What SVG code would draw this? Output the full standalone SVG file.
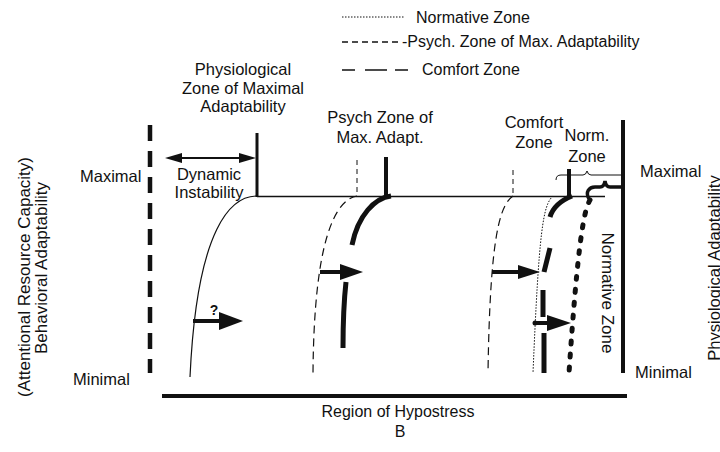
<svg xmlns="http://www.w3.org/2000/svg" width="720" height="452" viewBox="0 0 720 452">
<style>
text{font-family:"Liberation Sans",Arial,sans-serif;font-size:16.5px;fill:#111}
.c{text-anchor:middle}
.ln{fill:none;stroke:#111}
.thin{stroke-width:1.2}
.dsh{stroke-dasharray:8 5}
.tk{stroke-width:4}
.hd{fill:#111}
</style>
<rect width="720" height="452" fill="#fff"/>
<g id="legend">
<path class="ln" d="M342,17H405" stroke-width="1" stroke-dasharray="1.5 1.5"/>
<text x="416" y="23" style="font-size:16px">Normative Zone</text>
<path class="ln" d="M342,42H401" stroke-width="1.6" stroke-dasharray="6 4"/>
<text x="402" y="47" style="font-size:16px">-Psych. Zone of Max. Adaptability</text>
<path class="ln" d="M342,70H408" stroke-width="1.5" stroke-dasharray="13 10 22 8 13"/>
<text x="422" y="75" style="font-size:16px">Comfort Zone</text>
</g>
<g id="axes">
<text transform="translate(30,277) rotate(-90)" class="c" style="font-size:17px">(Attentional Resource Capacity)</text>
<text transform="translate(47,268) rotate(-90)" class="c" style="font-size:17px">Behavioral Adaptability</text>
<text x="80" y="182">Maximal</text>
<text x="73" y="385">Minimal</text>
<path class="ln" d="M150,125V373" stroke-width="4.5" stroke-dasharray="16 10"/>
<path class="ln" d="M162,396H627" stroke-width="4"/>
<text x="398" y="417" class="c" style="font-size:16px">Region of Hypostress</text>
<text x="400" y="437" class="c" style="font-size:16px">B</text>
<path class="ln" d="M623,120V373" stroke-width="4"/>
<text x="640" y="177">Maximal</text>
<text x="635" y="378">Minimal</text>
<text transform="translate(720,268) rotate(-90)" class="c">Physiological Adaptability</text>
<path class="ln" d="M257,196.5H605" stroke-width="1.3"/>
</g>
<g id="physiological-zone">
<text x="243" y="75" class="c">Physiological</text>
<text x="243" y="94" class="c">Zone of Maximal</text>
<text x="243" y="112" class="c">Adaptability</text>
<path class="ln" d="M257,133V197" stroke-width="3"/>
<text x="209" y="180" class="c">Dynamic</text>
<text x="209" y="198" class="c">Instability</text>
<path class="ln thin" d="M257,196C232,196 197,225 190,377"/>
</g>
<g id="psych-zone">
<text x="380" y="123" class="c">Psych Zone of</text>
<text x="380" y="143" class="c">Max. Adapt.</text>
<path class="ln" d="M357,160V196" stroke-width="1" stroke-dasharray="5 4"/>
<path class="ln tk" d="M386,157V197"/>
<path class="ln thin dsh" d="M357,196C335,200 314,240 313,373"/>
<path class="ln" stroke-width="5" d="M391,196C375,198 358,215 352,245"/>
<path class="ln" stroke-width="5" d="M346,282C344,300 343,325 343,348"/>
</g>
<g id="comfort-zone">
<text x="534" y="128" class="c">Comfort</text>
<text x="534" y="148" class="c">Zone</text>
<path class="ln" d="M513,170V196" stroke-width="1" stroke-dasharray="5 4"/>
<path class="ln thin dsh" d="M513,196C500,205 490,235 488,373"/>
<path class="ln tk" d="M569,169V196"/>
<path class="ln" stroke-width="5" d="M572,196C562,200 553,207 550,217"/>
<path class="ln" stroke-width="5" d="M550,248L544,272"/>
<path class="ln" stroke-width="5" d="M543,290L543,317"/>
<path class="ln" stroke-width="5" d="M544,333L544,373"/>
</g>
<g id="normative-zone">
<text x="587" y="141" class="c">Norm.</text>
<text x="587" y="162" class="c">Zone</text>
<path class="ln" stroke-width="1" stroke-dasharray="1.5 1.5" d="M553,196C543,205 539,230 533,373"/>
<path class="ln" stroke-width="5" stroke-linecap="round" stroke-dasharray="3 10" d="M590,200C584,210 578,240 569,373"/>
<path class="ln" stroke-width="3.5" d="M589,199C585,192 589,187 595,187L600,187Q604,187 605,181Q606,187 610,187L623,187"/>
<path class="ln" stroke-width="1" d="M556,180Q556,175 561,175L583,175Q586,175 587,171Q588,175 591,175L623,175"/>
<text transform="translate(602,293) rotate(90)" class="c" style="font-size:17px">Normative Zone</text>
</g>
<g id="connectors">
<path class="ln" stroke-width="2" d="M178,158H243"/>
<polygon class="hd" points="165,158 182,153 182,163"/>
<polygon class="hd" points="256,158 239,153 239,163"/>
<path class="ln tk" d="M193,321H222"/>
<polygon class="hd" points="219,312 243,321 219,330"/>
<text x="214" y="315" class="c" style="font-size:14px;font-weight:bold">?</text>
<path class="ln tk" d="M320,272H343"/>
<polygon class="hd" points="340,264 363,272 340,280"/>
<path class="ln tk" d="M492,272H520"/>
<polygon class="hd" points="518,265 540,272 518,279"/>
<circle class="hd" cx="535" cy="323" r="2.5"/>
<path class="ln tk" d="M535,323H550"/>
<polygon class="hd" points="547,315 571,323 547,331"/>
</g>
</svg>
